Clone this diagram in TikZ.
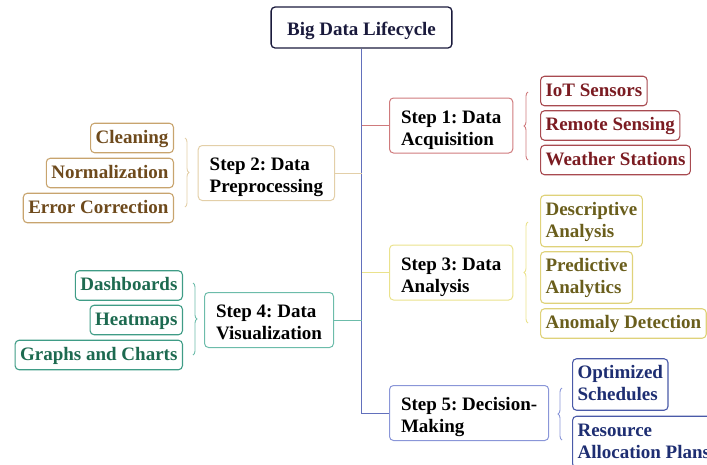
\documentclass[tikz,border=0pt]{standalone}
\usepackage{fontspec}
\setmainfont{Liberation Serif}
\usetikzlibrary{decorations.pathreplacing}

% colour families of the five steps
\definecolor{navy}{HTML}{1A1A3C}
\definecolor{trunkc}{HTML}{6270BC}
\definecolor{redL}{HTML}{CF7A7C}\definecolor{redD}{HTML}{A84A50}\definecolor{redT}{HTML}{7B1C22}
\definecolor{tanL}{HTML}{E3CFA8}\definecolor{tanD}{HTML}{C8A46E}\definecolor{tanT}{HTML}{6E4A1C}
\definecolor{yelL}{HTML}{EAE28C}\definecolor{yelD}{HTML}{DFD27A}\definecolor{yelT}{HTML}{6A5E1C}
\definecolor{teaL}{HTML}{6CBCAA}\definecolor{teaD}{HTML}{3F9C86}\definecolor{teaT}{HTML}{1D6A50}
\definecolor{bluL}{HTML}{8A96D8}\definecolor{bluD}{HTML}{4A5AA8}\definecolor{bluT}{HTML}{1E2E72}

% text height counts from the last baseline up to the top of the first line
\tikzset{
  base/.style={rounded corners=4pt, font=\fontsize{19}{22}\selectfont\bfseries\frenchspacing,
    align=left, inner ysep=1pt},
  titlebox/.style={base, draw=navy, line width=1.3pt, text=navy, inner xsep=16pt,
    text height=27pt, text depth=12pt},
  stepbox/.style={base, draw=#1, line width=1pt, text=black, inner xsep=11.5pt,
    text height=46pt, text depth=7pt},
  leafbox/.style n args={2}{base, draw=#1, line width=1.1pt, text=#2, inner xsep=5pt,
    text height=19pt, text depth=8.5pt},
  leafboxii/.style n args={2}{leafbox={#1}{#2}, text height=41pt},
  link/.style={draw=#1, line width=1pt},
  bracer/.style={draw=#1, line width=0.9pt, decorate, decoration={brace, amplitude=4pt}},
}

\begin{document}
\begin{tikzpicture}[x=1pt, y=-1pt]
\useasboundingbox (0,0) rectangle (707,464);
\clip (0,0) rectangle (707,464);

% title
\node[titlebox] (top) at (361.5,27.5) {Big Data Lifecycle};

% the five steps
\node[stepbox=redL, anchor=west] (s1) at (389,125.5) {Step 1: Data\\Acquisition};
\node[stepbox=tanL, anchor=east] (s2) at (335,173) {Step 2: Data\\Preprocessing};
\node[stepbox=yelL, anchor=west] (s3) at (389,272.5) {Step 3: Data\\Analysis};
\node[stepbox=teaL, anchor=east] (s4) at (334,320) {Step 4: Data\\Visualization};
\node[stepbox=bluL, anchor=west] (s5) at (389,413) {Step 5: Decision-\\Making};

% trunk and branches
\draw[link=trunkc] (top.south) |- (s5.west);
\draw[link=redL] (s1.west) -- (s1.west -| top.south);
\draw[link=tanL] (s2.east) -- (s2.east -| top.south);
\draw[link=yelL] (s3.west) -- (s3.west -| top.south);
\draw[link=teaL] (s4.east) -- (s4.east -| top.south);

% step 1 leaves
\node[leafbox={redD}{redT}, anchor=west] (a1) at (540,91) {IoT Sensors};
\node[leafbox={redD}{redT}, anchor=west] (a2) at (540,125.5) {Remote Sensing};
\node[leafbox={redD}{redT}, anchor=west] (a3) at (540,160) {Weather Stations};
\draw[bracer=redL] (528,160) -- (528,92);

% step 2 leaves
\node[leafbox={tanD}{tanT}, anchor=east] (b1) at (174,138) {Cleaning};
\node[leafbox={tanD}{tanT}, anchor=east] (b2) at (174,173) {Normalization};
\node[leafbox={tanD}{tanT}, anchor=east] (b3) at (174,208) {Error Correction};
\draw[bracer=tanL] (185,138) -- (185,207);

% step 3 leaves
\node[leafboxii={yelD}{yelT}, anchor=west] (c1) at (540,221) {Descriptive\\Analysis};
\node[leafboxii={yelD}{yelT}, anchor=west] (c2) at (540,277.5) {Predictive\\Analytics};
\node[leafbox={yelD}{yelT}, anchor=west] (c3) at (540,323.5) {Anomaly Detection};
\draw[bracer=yelL] (528,323) -- (528,222);

% step 4 leaves
\node[leafbox={teaD}{teaT}, anchor=east] (d1) at (183,285.5) {Dashboards};
\node[leafbox={teaD}{teaT}, anchor=east] (d2) at (183,320) {Heatmaps};
\node[leafbox={teaD}{teaT}, anchor=east] (d3) at (183,355) {Graphs and Charts};
\draw[bracer=teaL] (193,283) -- (193,355);

% step 5 leaves
\node[leafboxii={bluD}{bluT}, anchor=west] (e1) at (572,384.5) {Optimized\\Schedules};
\node[leafboxii={bluD}{bluT}, anchor=west] (e2) at (572,442) {Resource\\Allocation Plans};
\draw[bracer=bluL] (562,440) -- (562,388);
\end{tikzpicture}
\end{document}
